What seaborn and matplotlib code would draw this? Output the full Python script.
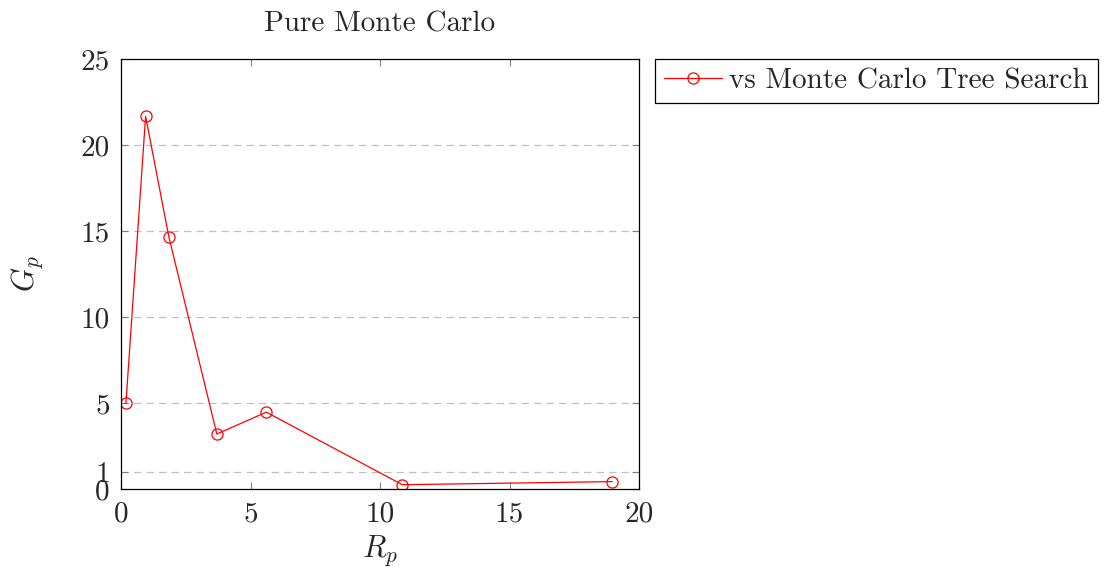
import matplotlib
matplotlib.use("Agg")
import matplotlib.pyplot as plt
import seaborn as sns
import pandas as pd

# Data
rp_values = [0.19, 0.95, 1.85, 3.70, 5.61, 10.86, 18.97]
gp_values = [4.98, 21.68, 14.65, 3.20, 4.47, 0.25, 0.43]
series_name = "vs Monte Carlo Tree Search"
x_ticks = [0, 5, 10, 15, 20]
y_ticks = [0, 1, 5, 10, 15, 20, 25]
y_grid = [1, 5, 10, 15, 20]

sns.set_style("white")
plt.rcParams["font.family"] = ["cmr10", "DejaVu Serif"]
plt.rcParams["mathtext.fontset"] = "cm"
plt.rcParams["axes.formatter.use_mathtext"] = True

df = pd.DataFrame({"Rp": rp_values, "Gp": gp_values, "series": series_name})

fig = plt.figure(figsize=(11.06, 5.71), dpi=100)
ax = fig.add_axes([121/1106, 1-489/571, (639-121)/1106, (489-59.3)/571])

for g in y_grid:
    ax.axhline(g, color="#c0c0c0", lw=0.9, ls=(0, (6, 4)), zorder=0)

sns.lineplot(data=df, x="Rp", y="Gp", hue="series", palette=["#ff0000"],
             marker="o", markersize=8, markerfacecolor="none",
             markeredgecolor="#ff0000", markeredgewidth=0.9, lw=0.9, ax=ax,
             sort=False)

ax.set_xlim(0, 20)
ax.set_ylim(0, 25)
ax.set_xticks(x_ticks)
ax.set_yticks(y_ticks)
ax.set_xticklabels([str(v) for v in x_ticks], fontsize=21)
ax.set_yticklabels([str(v) for v in y_ticks], fontsize=21)
ax.tick_params(axis="x", pad=9)
ax.tick_params(axis="y", pad=8)
ax.tick_params(direction="in", length=5, width=0.8, color="#808080",
               top=True, right=True, bottom=True, left=True)
for s in ax.spines.values():
    s.set_color("black")
    s.set_linewidth(0.9)

ax.set_xlabel(r"$R_p$", fontsize=22, labelpad=4)
ax.set_ylabel(r"$G_p$", fontsize=22, labelpad=26)
ax.set_title("Pure Monte Carlo", fontsize=21, pad=20)

leg = ax.legend(loc="upper left", bbox_to_anchor=(1.031, 1.0), fontsize=21,
                frameon=True, fancybox=False, framealpha=1, edgecolor="black",
                borderpad=0.3, handlelength=2.0, handletextpad=0.25,
                borderaxespad=0)
leg.get_frame().set_linewidth(0.9)

fig.savefig("out.png", dpi=100)
